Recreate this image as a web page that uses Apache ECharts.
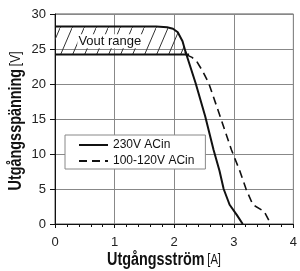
<!DOCTYPE html>
<html>
<head>
<meta charset="utf-8">
<script src="https://cdn.jsdelivr.net/npm/echarts@6/dist/echarts.min.js"></script>
<style>
  html, body { margin: 0; padding: 0; background: #fff; }
  #chart { width: 300px; height: 271px; }
</style>
</head>
<body>
<div id="chart"></div>
<script>
// Vout range band (top edge curve and bottom edge)
var voutTopX = [0, 1.7, 1.88, 1.98, 2.06, 2.14, 2.19, 2.2];
var voutTopY = [28.2, 28.2, 28.1, 27.9, 27.4, 26.1, 24.6, 24.2];
var voutLow = 24.2;
var voutLowX = [0, 2.25];

// 230V ACin (solid)
var acHighX = [2.19, 2.36, 2.52, 2.66, 2.76, 2.83, 2.93, 3.05, 3.15];
var acHighY = [24.6, 20.1, 15.4, 10.6, 7.6, 5.0, 2.75, 1.3, 0];

// 100-120V ACin (dashed)
var acLowX = [2.2, 2.3, 2.38, 2.48, 2.58, 2.77, 2.96, 3.1, 3.21, 3.32, 3.51, 3.62];
var acLowY = [24.2, 23.8, 23.2, 21.8, 20.1, 15.4, 10.6, 7.6, 4.9, 2.75, 1.8, 0];

var xTicks = [0, 1, 2, 3, 4];
var yTicks = [0, 5, 10, 15, 20, 25, 30];

var seriesNames = ['230V ACin', '100-120V ACin'];

function pairs(xs, ys) {
    return xs.map(function (x, i) { return [x, ys[i]]; });
}

// hatch pattern for the Vout band
function hatchPattern() {
    var c = document.createElement('canvas');
    c.width = 12;
    c.height = 28;
    var ctx = c.getContext('2d');
    ctx.strokeStyle = '#333';
    ctx.lineWidth = 1;
    ctx.beginPath();
    ctx.moveTo(0, 28);
    ctx.lineTo(12, 0);
    ctx.stroke();
    return c;
}

var chart = echarts.init(document.getElementById('chart'), null, { renderer: 'canvas' });

var tickFont = "'Liberation Sans', Arial, sans-serif";

var option = {
    animation: false,
    backgroundColor: '#fff',
    grid: {
        left: 55, right: 2, top: 14, bottom: 47,
        show: true, borderColor: '#555', borderWidth: 1
    },
    xAxis: {
        type: 'value',
        min: xTicks[0], max: xTicks[xTicks.length - 1], interval: 1,
        axisLine: { show: true, lineStyle: { color: '#111', width: 1 } },
        axisTick: { show: true, length: 4, lineStyle: { color: '#111' } },
        minorTick: { show: true, splitNumber: 5, length: 3, lineStyle: { color: '#111' } },
        splitLine: { show: true, lineStyle: { color: '#888', width: 1 } },
        axisLabel: { color: '#222', fontSize: 13, fontFamily: tickFont, margin: 12 }
    },
    yAxis: {
        type: 'value',
        min: yTicks[0], max: yTicks[yTicks.length - 1], interval: 5,
        axisLine: { show: true, lineStyle: { color: '#111', width: 1 } },
        axisTick: { show: true, length: 5, lineStyle: { color: '#111' } },
        splitLine: { show: true, lineStyle: { color: '#888', width: 1 } },
        axisLabel: { color: '#222', fontSize: 13, fontFamily: tickFont, margin: 9 }
    },
    legend: {
        data: seriesNames,
        orient: 'vertical',
        left: 65, top: 135,
        backgroundColor: '#fff',
        borderColor: '#888', borderWidth: 1,
        padding: [4, 11, 2, 13],
        itemWidth: 29, itemHeight: 14, itemGap: 4,
        itemStyle: { opacity: 0 },
        textStyle: { color: '#111', fontSize: 12, fontFamily: tickFont }
    },
    series: [
        {
            name: 'Vout range',
            type: 'line',
            data: pairs(voutTopX, voutTopY),
            symbol: 'none',
            lineStyle: { color: '#111', width: 2 },
            areaStyle: {
                origin: voutLow,
                color: { image: hatchPattern(), repeat: 'repeat' },
                opacity: 1
            },
            markPoint: {
                symbolSize: 0,
                data: [{ coord: [0.92, 26.1], value: 0 }],
                label: {
                    show: true, position: 'inside',
                    formatter: 'Vout range',
                    color: '#111', fontSize: 13, fontFamily: tickFont,
                    backgroundColor: '#fff', padding: [1, 1, 0, 1]
                }
            },
            z: 3
        },
        {
            name: 'Vout low',
            type: 'line',
            data: voutLowX.map(function (x) { return [x, voutLow]; }),
            symbol: 'none',
            lineStyle: { color: '#111', width: 2 },
            z: 3
        },
        {
            name: seriesNames[0],
            type: 'line',
            data: pairs(acHighX, acHighY),
            symbol: 'none',
            lineStyle: { color: '#111', width: 2, type: 'solid' },
            itemStyle: { color: '#111' },
            z: 4
        },
        {
            name: seriesNames[1],
            type: 'line',
            data: pairs(acLowX, acLowY),
            symbol: 'none',
            lineStyle: { color: '#111', width: 1.6, type: [8, 5] },
            itemStyle: { color: '#111' },
            z: 4
        }
    ],
    graphic: [
        {
            type: 'text',
            x: 16, y: 121,
            rotation: Math.PI / 2,
            scaleX: 0.8,
            style: {
                text: '{b|Utgångsspänning} {n|[V]}',
                align: 'center', verticalAlign: 'middle',
                fill: '#111',
                rich: {
                    b: { fontSize: 18, fontFamily: tickFont, fontWeight: 'bold', fill: '#111' },
                    n: { fontSize: 15, fontFamily: tickFont, fill: '#111' }
                }
            }
        },
        {
            type: 'text',
            x: 164, y: 260,
            scaleX: 0.8,
            style: {
                text: '{b|Utgångsström} {n|[A]}',
                align: 'center', verticalAlign: 'middle',
                fill: '#111',
                rich: {
                    b: { fontSize: 18, fontFamily: tickFont, fontWeight: 'bold', fill: '#111' },
                    n: { fontSize: 14, fontFamily: tickFont, fill: '#111' }
                }
            }
        }
    ]
};

chart.setOption(option);
</script>
</body>
</html>
